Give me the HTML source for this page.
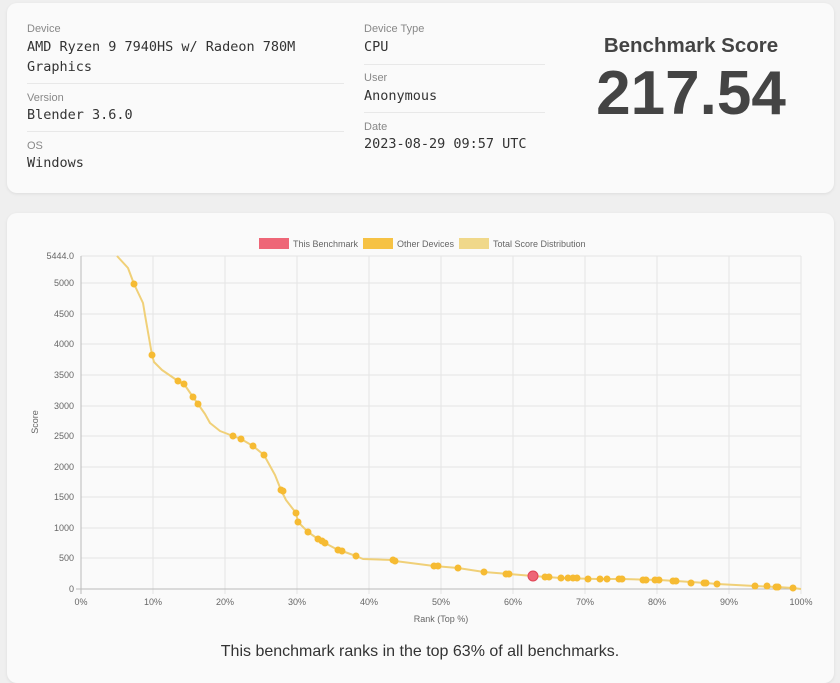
<!DOCTYPE html>
<html><head><meta charset="utf-8"><style>
body{margin:0;width:840px;height:666px;background:#efefef;position:relative;overflow:hidden;font-family:"Liberation Sans",sans-serif}
.card{position:absolute;background:#fafafa;border-radius:10px;box-shadow:0 1px 3px rgba(0,0,0,.08)}
.lab{position:absolute;font-size:11px;color:#888}
.val{position:absolute;font-family:"DejaVu Sans Mono","Liberation Mono",monospace;font-size:13.5px;color:#333;line-height:20px}
.hr{position:absolute;height:1px;background:#e8e8e8}
</style></head><body>
<div class="card" style="left:7px;top:3px;width:827px;height:190px"></div>
<div class="lab" style="left:27px;top:23px">Device</div>
<div class="val" style="left:27px;top:37px">AMD Ryzen 9 7940HS w/ Radeon 780M<br>Graphics</div>
<div class="hr" style="left:27px;top:83px;width:317px"></div>
<div class="lab" style="left:27px;top:92px">Version</div>
<div class="val" style="left:27px;top:105px">Blender 3.6.0</div>
<div class="hr" style="left:27px;top:131px;width:317px"></div>
<div class="lab" style="left:27px;top:140px">OS</div>
<div class="val" style="left:27px;top:153px">Windows</div>
<div class="lab" style="left:364px;top:23px">Device Type</div>
<div class="val" style="left:364px;top:37px">CPU</div>
<div class="hr" style="left:364px;top:64px;width:181px"></div>
<div class="lab" style="left:364px;top:72px">User</div>
<div class="val" style="left:364px;top:86px">Anonymous</div>
<div class="hr" style="left:364px;top:112px;width:181px"></div>
<div class="lab" style="left:364px;top:121px">Date</div>
<div class="val" style="left:364px;top:134px">2023-08-29 09:57 UTC</div>
<div style="position:absolute;left:561px;width:260px;top:34px;text-align:center;font-size:20.5px;font-weight:bold;color:#444">Benchmark Score</div>
<div style="position:absolute;left:561px;width:260px;top:58px;text-align:center;font-size:62px;font-weight:bold;color:#444;line-height:72px">217.54</div>
<div class="card" style="left:7px;top:213px;width:827px;height:470px"></div>
<svg width="840" height="666" style="position:absolute;left:0;top:0" font-family="Liberation Sans, sans-serif">
<g font-size="9" fill="#666">
<rect x="259" y="238" width="30" height="11" fill="#ee6677"/><text x="293" y="247">This Benchmark</text>
<rect x="363" y="238" width="30" height="11" fill="#f6c244"/><text x="397" y="247">Other Devices</text>
<rect x="459" y="238" width="30" height="11" fill="#f0d88a"/><text x="493" y="247">Total Score Distribution</text>
</g>
<g stroke="#e4e4e4" stroke-width="1">
<line x1="81" y1="256" x2="801" y2="256"/><line x1="81" y1="283" x2="801" y2="283"/><line x1="81" y1="314" x2="801" y2="314"/><line x1="81" y1="344" x2="801" y2="344"/><line x1="81" y1="375" x2="801" y2="375"/><line x1="81" y1="406" x2="801" y2="406"/><line x1="81" y1="436" x2="801" y2="436"/><line x1="81" y1="467" x2="801" y2="467"/><line x1="81" y1="497" x2="801" y2="497"/><line x1="81" y1="528" x2="801" y2="528"/><line x1="81" y1="558" x2="801" y2="558"/>
<line x1="153" y1="256" x2="153" y2="594"/><line x1="225" y1="256" x2="225" y2="594"/><line x1="297" y1="256" x2="297" y2="594"/><line x1="369" y1="256" x2="369" y2="594"/><line x1="441" y1="256" x2="441" y2="594"/><line x1="513" y1="256" x2="513" y2="594"/><line x1="585" y1="256" x2="585" y2="594"/><line x1="657" y1="256" x2="657" y2="594"/><line x1="729" y1="256" x2="729" y2="594"/><line x1="801" y1="256" x2="801" y2="594"/>
</g>
<line x1="81" y1="256" x2="81" y2="594" stroke="#bbb"/><line x1="76" y1="589" x2="801" y2="589" stroke="#bbb"/>
<g font-size="9" fill="#666" text-anchor="end">
<text x="74" y="259">5444.0</text><text x="74" y="286">5000</text><text x="74" y="317">4500</text><text x="74" y="347">4000</text><text x="74" y="378">3500</text><text x="74" y="409">3000</text><text x="74" y="439">2500</text><text x="74" y="470">2000</text><text x="74" y="500">1500</text><text x="74" y="531">1000</text><text x="74" y="561">500</text><text x="74" y="592">0</text>
</g>
<g font-size="9" fill="#666" text-anchor="middle">
<text x="81" y="605">0%</text><text x="153" y="605">10%</text><text x="225" y="605">20%</text><text x="297" y="605">30%</text><text x="369" y="605">40%</text><text x="441" y="605">50%</text><text x="513" y="605">60%</text><text x="585" y="605">70%</text><text x="657" y="605">80%</text><text x="729" y="605">90%</text><text x="801" y="605">100%</text>
<text x="441" y="622">Rank (Top %)</text>
<text transform="translate(38,422) rotate(-90)">Score</text>
</g>
<polyline fill="none" stroke="#f0d078" stroke-width="2" stroke-linejoin="round" points="117,256 128,268 134,284 143,303 145,315 152,355 154,362 162,370 178,381 184,384 193,397 198,404 205,414 210,423 220,431 233,436 241,439 253,446 264,455 275,475 281,490 286,500 296,513 298,522 308,532 318,539 325,543 338,550 342,551 356,556 363,559 393,560 395,561 434,566 458,568 484,572 509,574 533,576 561,578 597,579 622,579 659,580 676,581 706,583 717,584 755,586 777,587 793,588 801,589"/>
<g fill="#f6bb33">
<circle cx="134" cy="284" r="3.5"/><circle cx="152" cy="355" r="3.5"/><circle cx="178" cy="381" r="3.5"/><circle cx="184" cy="384" r="3.5"/><circle cx="193" cy="397" r="3.5"/><circle cx="198" cy="404" r="3.5"/><circle cx="233" cy="436" r="3.5"/><circle cx="241" cy="439" r="3.5"/><circle cx="253" cy="446" r="3.5"/><circle cx="264" cy="455" r="3.5"/><circle cx="281" cy="490" r="3.5"/><circle cx="283" cy="491" r="3.5"/><circle cx="296" cy="513" r="3.5"/><circle cx="298" cy="522" r="3.5"/><circle cx="308" cy="532" r="3.5"/><circle cx="318" cy="539" r="3.5"/><circle cx="322" cy="541" r="3.5"/><circle cx="325" cy="543" r="3.5"/><circle cx="338" cy="550" r="3.5"/><circle cx="342" cy="551" r="3.5"/><circle cx="356" cy="556" r="3.5"/><circle cx="393" cy="560" r="3.5"/><circle cx="395" cy="561" r="3.5"/><circle cx="434" cy="566" r="3.5"/><circle cx="438" cy="566" r="3.5"/><circle cx="458" cy="568" r="3.5"/><circle cx="484" cy="572" r="3.5"/><circle cx="506" cy="574" r="3.5"/><circle cx="509" cy="574" r="3.5"/><circle cx="545" cy="577" r="3.5"/><circle cx="549" cy="577" r="3.5"/><circle cx="561" cy="578" r="3.5"/><circle cx="568" cy="578" r="3.5"/><circle cx="573" cy="578" r="3.5"/><circle cx="577" cy="578" r="3.5"/><circle cx="588" cy="579" r="3.5"/><circle cx="600" cy="579" r="3.5"/><circle cx="607" cy="579" r="3.5"/><circle cx="619" cy="579" r="3.5"/><circle cx="622" cy="579" r="3.5"/><circle cx="643" cy="580" r="3.5"/><circle cx="646" cy="580" r="3.5"/><circle cx="655" cy="580" r="3.5"/><circle cx="659" cy="580" r="3.5"/><circle cx="673" cy="581" r="3.5"/><circle cx="676" cy="581" r="3.5"/><circle cx="691" cy="583" r="3.5"/><circle cx="704" cy="583" r="3.5"/><circle cx="706" cy="583" r="3.5"/><circle cx="717" cy="584" r="3.5"/><circle cx="755" cy="586" r="3.5"/><circle cx="767" cy="586" r="3.5"/><circle cx="776" cy="587" r="3.5"/><circle cx="778" cy="587" r="3.5"/><circle cx="793" cy="588" r="3.5"/>
</g>
<circle cx="533" cy="576" r="5" fill="#ee6677" stroke="#e04455" stroke-width="1"/>
</svg>
<div style="position:absolute;left:0;width:840px;top:643px;text-align:center;font-size:16px;color:#333">This benchmark ranks in the top 63% of all benchmarks.</div>
</body></html>
